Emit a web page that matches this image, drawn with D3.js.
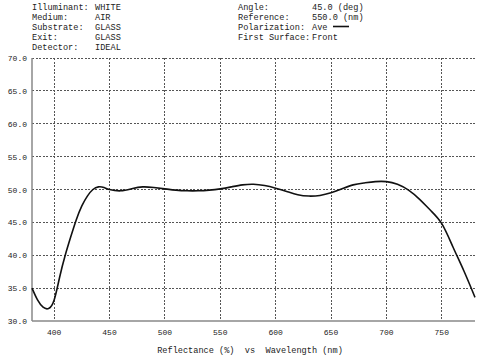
<!DOCTYPE html>
<html><head><meta charset="utf-8">
<script src="https://cdn.jsdelivr.net/npm/d3@7"></script>
<style>body{margin:0;background:#fff}svg{display:block}text{font-family:"Liberation Mono","DejaVu Sans Mono",monospace;fill:#222}</style>
</head><body><svg id="c" width="500" height="360"></svg>
<script>
const wavelengths=[380,385,390,395,400,405,410,415,420,425,430,435,440,445,450,460,470,480,490,500,510,520,530,540,550,560,570,580,590,600,610,620,630,640,650,660,670,680,690,700,710,720,730,740,750,760,770,780];
const reflectance=[35.0,33.2,32.1,31.9,33.2,36.7,40.0,42.8,45.4,47.5,49.0,50.0,50.4,50.3,50.0,49.8,50.1,50.4,50.3,50.1,49.9,49.8,49.8,49.9,50.1,50.4,50.7,50.8,50.6,50.2,49.7,49.2,49.0,49.1,49.5,50.1,50.7,51.0,51.2,51.2,50.8,49.9,48.5,46.8,44.8,41.3,37.6,33.6];
const xTicks=[400,450,500,550,600,650,700,750];
const yTicks=[30,35,40,45,50,55,60,65,70];
const infoLeftLabels=["Illuminant:","Medium:","Substrate:","Exit:","Detector:"];
const infoLeftValues=["WHITE","AIR","GLASS","GLASS","IDEAL"];
const infoRightLabels=["Angle:","Reference:","Polarization:","First Surface:"];
const infoRightValues=["45.0 (deg)","550.0 (nm)","Ave","Front"];
const xTitle="Reflectance (%)  vs  Wavelength (nm)";

const svg=d3.select("#c");
const x=d3.scaleLinear().domain([380,780]).range([32,475]);
const y=d3.scaleLinear().domain([30,70]).range([321,58]);
const fs=8;
const hfs=8.6;

// grid
const g=svg.append("g");
g.selectAll(".hg").data(yTicks.filter(v=>v>30)).join("line")
 .attr("x1",x(380)).attr("x2",477).attr("y1",d=>y(d)).attr("y2",d=>y(d))
 .attr("stroke","#555").attr("stroke-width",1).attr("stroke-dasharray","2,1.5").attr("shape-rendering","crispEdges");
g.selectAll(".vg").data(xTicks).join("line")
 .attr("x1",d=>x(d)).attr("x2",d=>x(d)).attr("y1",y(70)).attr("y2",y(30))
 .attr("stroke","#555").attr("stroke-width",1).attr("stroke-dasharray","2,1.5").attr("shape-rendering","crispEdges");

// axes lines
svg.append("line").attr("x1",x(380)).attr("x2",x(380)).attr("y1",y(70)).attr("y2",y(30)).attr("stroke","#888").attr("stroke-width",1.5);
svg.append("line").attr("x1",x(380)).attr("x2",x(780)).attr("y1",y(30)).attr("y2",y(30)).attr("stroke","#888").attr("stroke-width",1.5);

// tick labels
svg.selectAll(".yl").data(yTicks).join("text")
 .attr("x",27).attr("y",d=>y(d)+3).attr("text-anchor","end").attr("font-size",fs).text(d=>d.toFixed(1));
svg.selectAll(".xl").data(xTicks).join("text")
 .attr("x",d=>x(d)).attr("y",335).attr("text-anchor","middle").attr("font-size",fs).text(d=>d);
svg.append("text").attr("x",250).attr("y",353).attr("text-anchor","middle").attr("font-size",hfs).attr("xml:space","preserve").style("white-space","pre").text(xTitle);

// curve
const line=d3.line().x((d,i)=>x(wavelengths[i])).y(d=>y(d)).curve(d3.curveNatural);
svg.append("path").datum(reflectance).attr("d",line).attr("fill","none").attr("stroke","#111").attr("stroke-width",1.6);

// header info
infoLeftLabels.forEach((t,i)=>{
  svg.append("text").attr("x",32).attr("y",9.5+i*10.2).attr("font-size",hfs).text(t);
  svg.append("text").attr("x",95).attr("y",9.5+i*10.2).attr("font-size",hfs).text(infoLeftValues[i]);
});
infoRightLabels.forEach((t,i)=>{
  svg.append("text").attr("x",238).attr("y",9.5+i*10.2).attr("font-size",hfs).text(t);
  svg.append("text").attr("x",312).attr("y",9.5+i*10.2).attr("font-size",hfs).text(infoRightValues[i]);
});
svg.append("line").attr("x1",333).attr("x2",349).attr("y1",26.5).attr("y2",26.5).attr("stroke","#111").attr("stroke-width",1.6);
</script></body></html>
